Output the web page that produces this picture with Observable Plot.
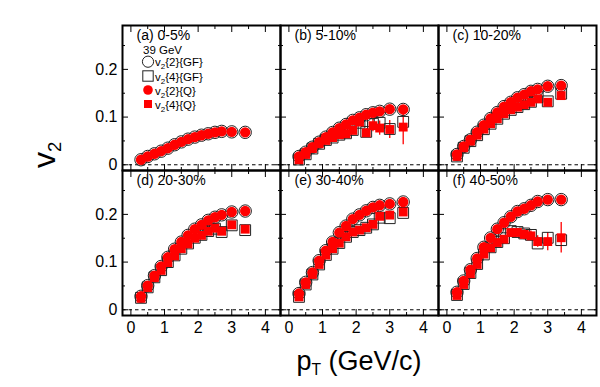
<!DOCTYPE html>
<html>
<head>
<meta charset="utf-8">
<script src="https://cdn.jsdelivr.net/npm/d3@7"></script>
<script src="https://cdn.jsdelivr.net/npm/@observablehq/plot@0.6"></script>
<style>
  html, body { margin: 0; padding: 0; background: #fff; }
  #wrap { position: relative; width: 600px; height: 387px; font-family: "Liberation Sans", Arial, Helvetica, sans-serif; color: #000; }
  #ytitle { position: absolute; left: 28px; top: 168px; transform: rotate(-90deg); transform-origin: 0 0; font-size: 32px; line-height: 32px; white-space: nowrap; }
  #xtitle { position: absolute; left: 209px; width: 300px; top: 346px; text-align: center; font-size: 27px; line-height: 30px; white-space: nowrap; }
  .sub { font-size: 0.58em; vertical-align: -0.32em; line-height: 0; }
  #legend { position: absolute; left: 130px; top: 40px; }
</style>
</head>
<body>
<div id="wrap">
  <div id="chart"></div>
  <div id="ytitle">v<span class="sub">2</span></div>
  <div id="xtitle">p<span class="sub">T</span> (GeV/c)</div>
  <svg id="legend" width="100" height="75" font-family="Liberation Sans, Arial, sans-serif" font-size="11.5">
    <text x="13" y="13.5">39 GeV</text>
    <circle cx="18" cy="21.7" r="5.6" fill="none" stroke="#222" stroke-width="1"/>
    <text x="25" y="26.3"><tspan>v</tspan><tspan font-size="8" dy="3">2</tspan><tspan dy="-3">{2}{GF}</tspan></text>
    <rect x="12.8" y="30.8" width="10.4" height="10.4" fill="none" stroke="#222" stroke-width="1"/>
    <text x="25" y="40.5"><tspan>v</tspan><tspan font-size="8" dy="3">2</tspan><tspan dy="-3">{4}{GF}</tspan></text>
    <circle cx="18" cy="50" r="4.8" fill="#ff0000"/>
    <text x="25" y="54.5"><tspan>v</tspan><tspan font-size="8" dy="3">2</tspan><tspan dy="-3">{2}{Q}</tspan></text>
    <rect x="14" y="60" width="8" height="8" fill="#ff0000"/>
    <text x="25" y="68.5"><tspan>v</tspan><tspan font-size="8" dy="3">2</tspan><tspan dy="-3">{4}{Q}</tspan></text>
  </svg>
</div>
<script>
// transverse momentum bins (GeV/c)
const pT = [0.3, 0.5, 0.7, 0.9, 1.1, 1.3, 1.5, 1.7, 1.9, 2.1, 2.3, 2.5, 2.7, 3.0, 3.4];
const panelLabels = ["(a) 0-5%", "(b) 5-10%", "(c) 10-20%", "(d) 20-30%", "(e) 30-40%", "(f) 40-50%"];
const xTicks = [0, 1, 2, 3, 4];
const xMinorTicks = [0.5, 1.5, 2.5, 3.5];
const yTicks = [0, 0.1, 0.2];
const yMinorTicks = [0.05, 0.15, 0.25];

// v2{2}{Q}, one list per centrality panel (a)..(f)
const v22Q_a = [0.0105, 0.0174, 0.023, 0.0285, 0.0348, 0.042, 0.048, 0.0537, 0.058, 0.062, 0.065, 0.068, 0.070, 0.069, 0.068];
const v22Q_b = [0.0174, 0.0264, 0.0369, 0.0474, 0.058, 0.0677, 0.0767, 0.0845, 0.093, 0.0985, 0.105, 0.109, 0.112, 0.1166, 0.116];
const v22Q_c = [0.0216, 0.0384, 0.0524, 0.0683, 0.083, 0.097, 0.1096, 0.122, 0.131, 0.1405, 0.147, 0.154, 0.158, 0.1646, 0.166];
const v22Q_d = [0.0283, 0.0506, 0.0715, 0.0908, 0.110, 0.127, 0.142, 0.156, 0.169, 0.178, 0.1875, 0.194, 0.199, 0.205, 0.207];
const v22Q_e = [0.034, 0.0575, 0.078, 0.103, 0.124, 0.142, 0.1617, 0.1756, 0.19, 0.199, 0.2075, 0.2146, 0.219, 0.222, 0.226];
const v22Q_f = [0.0367, 0.0604, 0.084, 0.1075, 0.131, 0.1506, 0.169, 0.1825, 0.195, 0.206, 0.2117, 0.219, 0.227, 0.231, 0.231];

// v2{2}{GF}
const v22GF_a = [0.0105, 0.0174, 0.023, 0.0285, 0.0348, 0.042, 0.048, 0.0537, 0.058, 0.062, 0.065, 0.068, 0.070, 0.069, 0.068];
const v22GF_b = [0.0174, 0.0264, 0.0369, 0.0474, 0.058, 0.0677, 0.0767, 0.0845, 0.093, 0.0985, 0.105, 0.109, 0.112, 0.1166, 0.116];
const v22GF_c = [0.0216, 0.0384, 0.0524, 0.0683, 0.083, 0.097, 0.1096, 0.122, 0.131, 0.1405, 0.147, 0.154, 0.158, 0.1646, 0.166];
const v22GF_d = [0.0283, 0.0506, 0.0715, 0.0908, 0.110, 0.127, 0.142, 0.156, 0.169, 0.178, 0.1875, 0.194, 0.199, 0.205, 0.207];
const v22GF_e = [0.034, 0.0575, 0.078, 0.103, 0.124, 0.142, 0.1617, 0.1756, 0.19, 0.199, 0.2075, 0.2146, 0.219, 0.222, 0.226];
const v22GF_f = [0.0367, 0.0604, 0.084, 0.1075, 0.131, 0.1506, 0.169, 0.1825, 0.195, 0.206, 0.2117, 0.219, 0.227, 0.231, 0.231];

// v2{4}{Q} (no 0-5% measurement)
const v24Q_b = [0.0105, 0.0216, 0.034, 0.044, 0.051, 0.057, 0.063, 0.065, 0.072, 0.0895, 0.067, 0.082, 0.077, 0.074, 0.079];
const v24Q_c = [0.0174, 0.0356, 0.0495, 0.062, 0.0746, 0.086, 0.0964, 0.107, 0.1153, 0.1208, 0.126, 0.131, 0.138, 0.131, 0.145];
const v24Q_d = [0.024, 0.0465, 0.0673, 0.0825, 0.099, 0.113, 0.128, 0.138, 0.150, 0.156, 0.1646, 0.171, 0.1646, 0.178, 0.169];
const v24Q_e = [0.027, 0.053, 0.074, 0.095, 0.1146, 0.128, 0.1396, 0.153, 0.163, 0.167, 0.172, 0.179, 0.196, 0.1985, 0.205];
const v24Q_f = [0.030, 0.053, 0.0756, 0.095, 0.1167, 0.130, 0.141, 0.148, 0.162, 0.162, 0.158, 0.155, 0.143, 0.143, 0.151];

// statistical errors of v2{4}{Q}
const e24Q_b = [0.002, 0.002, 0.002, 0.002, 0.003, 0.003, 0.003, 0.004, 0.005, 0.006, 0.009, 0.013, 0.015, 0.019, 0.037];
const e24Q_c = [0.001, 0.001, 0.001, 0.001, 0.002, 0.002, 0.002, 0.003, 0.003, 0.003, 0.004, 0.004, 0.005, 0.006, 0.008];
const e24Q_d = [0.002, 0.002, 0.002, 0.002, 0.002, 0.002, 0.003, 0.003, 0.003, 0.004, 0.004, 0.005, 0.006, 0.006, 0.008];
const e24Q_e = [0.002, 0.002, 0.002, 0.002, 0.003, 0.003, 0.003, 0.003, 0.004, 0.004, 0.005, 0.005, 0.006, 0.006, 0.008];
const e24Q_f = [0.002, 0.003, 0.003, 0.003, 0.003, 0.004, 0.004, 0.005, 0.006, 0.008, 0.011, 0.010, 0.012, 0.019, 0.032];

// v2{4}{GF}
const v24GF_b = [0.011, 0.022, 0.034, 0.044, 0.052, 0.057, 0.063, 0.066, 0.073, 0.088, 0.069, 0.086, 0.088, 0.075, 0.090];
const v24GF_c = [0.0174, 0.0356, 0.0495, 0.062, 0.0746, 0.086, 0.0964, 0.107, 0.115, 0.121, 0.127, 0.132, 0.142, 0.133, 0.149];
const v24GF_d = [0.025, 0.047, 0.068, 0.083, 0.100, 0.114, 0.128, 0.139, 0.151, 0.157, 0.165, 0.170, 0.163, 0.177, 0.167];
const v24GF_e = [0.027, 0.053, 0.074, 0.095, 0.115, 0.128, 0.140, 0.153, 0.163, 0.167, 0.172, 0.179, 0.193, 0.192, 0.203];
const v24GF_f = [0.031, 0.054, 0.077, 0.096, 0.116, 0.131, 0.142, 0.150, 0.165, 0.163, 0.160, 0.157, 0.139, 0.151, 0.146];

function rows(panels, errs) {
  const out = [];
  panels.forEach((vals, p) => {
    if (!vals) return;
    vals.forEach((v, i) => out.push({col: p % 3, row: Math.floor(p / 3), x: pT[i], y: v, e: errs && errs[p] ? errs[p][i] : 0}));
  });
  return out;
}

const gf2 = rows([v22GF_a, v22GF_b, v22GF_c, v22GF_d, v22GF_e, v22GF_f]);
const gf4 = rows([null, v24GF_b, v24GF_c, v24GF_d, v24GF_e, v24GF_f]);
const q2 = rows([v22Q_a, v22Q_b, v22Q_c, v22Q_d, v22Q_e, v22Q_f]);
const q4 = rows([null, v24Q_b, v24Q_c, v24Q_d, v24Q_e, v24Q_f], [null, e24Q_b, e24Q_c, e24Q_d, e24Q_e, e24Q_f]);
const labels = panelLabels.map((t, p) => ({col: p % 3, row: Math.floor(p / 3), text: t}));

const tickMarks = [];
for (const anchor of ["bottom", "top"]) {
  const s = anchor === "bottom" ? -1 : 1;
  tickMarks.push(Plot.axisX(xTicks, {anchor, tickSize: 6, dy: 6 * s, fill: "none", label: null, facetAnchor: null, strokeWidth: 1}));
  tickMarks.push(Plot.axisX(xMinorTicks, {anchor, tickSize: 3, dy: 3 * s, fill: "none", label: null, facetAnchor: null, strokeWidth: 1}));
}
for (const anchor of ["left", "right"]) {
  const s = anchor === "left" ? 1 : -1;
  tickMarks.push(Plot.axisY(yTicks, {anchor, tickSize: 6, dx: 6 * s, fill: "none", label: null, facetAnchor: null, strokeWidth: 1}));
  tickMarks.push(Plot.axisY(yMinorTicks, {anchor, tickSize: 3, dx: 3 * s, fill: "none", label: null, facetAnchor: null, strokeWidth: 1}));
}

const chart = Plot.plot({
  width: 600,
  height: 387,
  marginLeft: 121,
  marginRight: 3,
  marginTop: 25,
  marginBottom: 72,
  style: {fontFamily: "Liberation Sans, Arial, sans-serif", fontSize: "16px", background: "#fff", color: "#000"},
  x: {domain: [-0.25, 4.45]},
  y: {domain: [-0.012, 0.292]},
  fx: {domain: [0, 1, 2], padding: 0, axis: null},
  fy: {domain: [0, 1], padding: 0, axis: null},
  marks: [
    Plot.ruleY([0], {stroke: "#000", strokeWidth: 1, strokeDasharray: "3.5,3"}),
    Plot.ruleX(q4, {fx: "col", fy: "row", x: "x", y1: d => d.y - d.e, y2: d => d.y + d.e, stroke: "#ff0000", strokeWidth: 1.3}),
    Plot.dot(gf2, {fx: "col", fy: "row", x: "x", y: "y", r: 6.2, fill: "none", stroke: "#222", strokeWidth: 1}),
    Plot.dot(gf4, {fx: "col", fy: "row", x: "x", y: "y", symbol: "square", r: 6.1, fill: "none", stroke: "#222", strokeWidth: 1}),
    Plot.dot(q2, {fx: "col", fy: "row", x: "x", y: "y", r: 5.2, fill: "#ff0000"}),
    Plot.dot(q4, {fx: "col", fy: "row", x: "x", y: "y", symbol: "square", r: 5.0, fill: "#ff0000"}),
    Plot.text(labels, {fx: "col", fy: "row", text: "text", frameAnchor: "top-left", dx: 14, dy: 10.5, textAnchor: "start", lineAnchor: "middle", fontSize: 14}),
    ...tickMarks,
    Plot.axisX(xTicks, {anchor: "bottom", tickSize: 0, tickPadding: 6, label: null}),
    Plot.axisY(yTicks, {anchor: "left", tickSize: 0, tickPadding: 5, label: null, tickFormat: d => d === 0 ? "0" : d.toFixed(1)}),
    Plot.frame({stroke: "#000", strokeWidth: 2})
  ]
});
document.getElementById("chart").appendChild(chart);
</script>
</body>
</html>
